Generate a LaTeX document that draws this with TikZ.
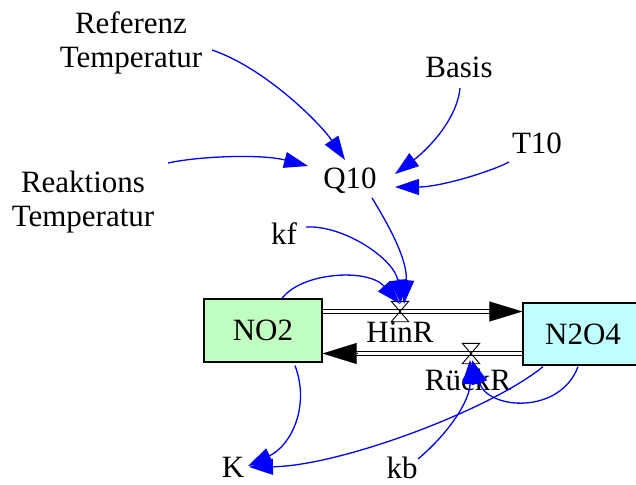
\documentclass[tikz,border=0pt]{standalone}
\usepackage{fontspec}
\setmainfont{Liberation Serif}
\usetikzlibrary{arrows.meta,calc}
\begin{document}
\begin{tikzpicture}[x=1pt,y=-1pt,
  lbl/.style={inner sep=0pt, font=\fontsize{31}{34}\selectfont, align=center},
  stock/.style={draw=black, line width=1.3pt, inner sep=0pt, minimum width=118pt, minimum height=63pt, font=\fontsize{31}{34}\selectfont},
  valve/.style={inner sep=0pt, minimum width=17pt, minimum height=20pt},
  valveline/.style={draw=black, line width=0.9pt},
  pipe/.style={draw=black, double=white, line width=1.3pt, double distance=3pt},
  pipetip/.style={draw=black, line width=0.1pt},
  conn/.style={draw={rgb,255:red,0;green,0;blue,255}, line width=1.3pt, -{Triangle[length=24pt,width=16pt]}}
]
\useasboundingbox (0,0) rectangle (636,484);

% text variables
\node[lbl] (ref) at (131,43) {Referenz\\Temperatur};
\node[lbl] (reak) at (83,202) {Reaktions\\Temperatur};
\node[lbl, anchor=base] (basis) at (459,78) {Basis};
\node[lbl, anchor=base] (t10) at (537,153) {T10};
\node[lbl, anchor=base] (q10) at (350,188) {Q10};
\node[lbl, anchor=base] (kf) at (284,244) {kf};
\node[lbl, anchor=base] (k) at (233,477) {K};
\node[lbl, anchor=base] (kb) at (402,478) {kb};

% stocks
\node[stock, fill={rgb,255:red,192;green,255;blue,192}] (no2) at (263,330.5) {NO2};
\node[stock, fill={rgb,255:red,192;green,255;blue,255}, minimum width=120pt, minimum height=62pt] (n2o4) at (583,334) {N2O4};

% valves
\coordinate (hy) at (0,311.5);
\coordinate (ry) at (0,353.5);
\node[valve] (hv) at (400,311.5) {};
\node[valve] (rv) at (471,353.5) {};

% pipes
\draw[pipe] (no2.east |- hy) -- ($(n2o4.west |- hy)+(-32,0)$);
\draw[pipetip, -{Triangle[length=33pt,width=20pt]}] ($(n2o4.west |- hy)+(-33,0)$) -- (n2o4.west |- hy);
\draw[pipe] (n2o4.west |- ry) -- ($(no2.east |- ry)+(33,0)$);
\draw[pipetip, -{Triangle[length=34pt,width=21pt]}] ($(no2.east |- ry)+(34,0)$) -- (no2.east |- ry);

\draw[valveline] (hv.north west) -- (hv.north east) -- (hv.south west) -- (hv.south east) -- cycle;
\draw[valveline] (rv.north west) -- (rv.north east) -- (rv.south west) -- (rv.south east) -- cycle;

% flow labels
\node[lbl, anchor=base] (hinr) at (400,342) {HinR};
\node[lbl, anchor=base] (rueckr) at (468,390) {RückR};

% connectors
\draw[conn] ([shift={(81,7)}]ref.center) .. controls (265,68) and (320,123) .. ([shift={(-5,-28)}]q10.base);
\draw[conn] ([shift={(85,-39)}]reak.center) .. controls (200,156) and (262,154) .. ([shift={(-42,-22)}]q10.base);
\draw[conn] ([shift={(1,10)}]basis.base) .. controls (457,120) and (427,150) .. ([shift={(45,-14)}]q10.base);
\draw[conn] ([shift={(-28,9)}]t10.base) .. controls (490,172) and (440,187) .. ([shift={(45,-1)}]q10.base);
\draw[conn] ([shift={(22,10)}]q10.base) .. controls (388,224) and (408,260) .. ([shift={(4,-7.5)}]hv.center);
\draw[conn] ([shift={(22,-17)}]kf.base) .. controls (345,225) and (395,260) .. ([shift={(1,-7.5)}]hv.center);
\draw[conn] ([xshift=19pt]no2.north) .. controls (302,272) and (368,268) .. ([shift={(0,-7.5)}]hv.center);
\draw[conn] ([shift={(32,3)}]no2.south) .. controls (310,405) and (292,445) .. ([shift={(15,-11)}]k.base);
\draw[conn] ([shift={(-40,1)}]n2o4.south) .. controls (490,410) and (340,466) .. ([shift={(16,-10)}]k.base);
\draw[conn] ([shift={(-5,1)}]n2o4.south) .. controls (560,415) and (488,410) .. ([shift={(1,6.5)}]rv.center);
\draw[conn] ([shift={(16,-19)}]kb.base) .. controls (450,432) and (470,400) .. ([shift={(-1,6.5)}]rv.center);
\end{tikzpicture}
\end{document}
